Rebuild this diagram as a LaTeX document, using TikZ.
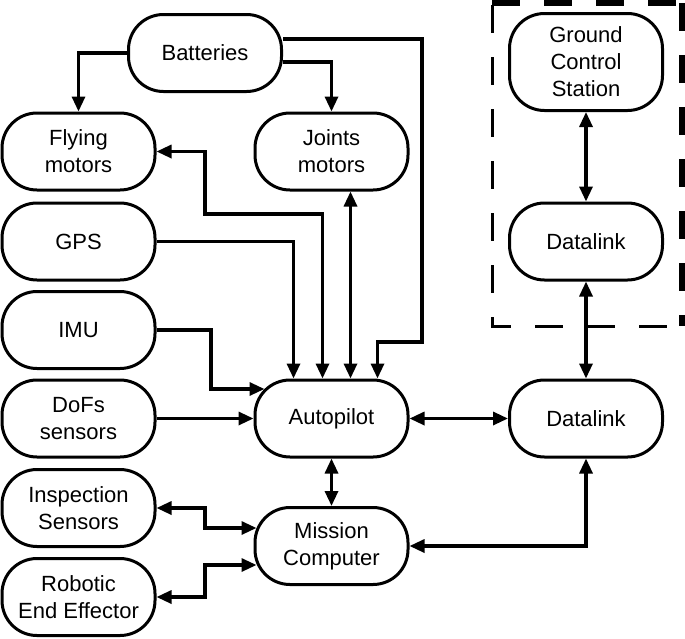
\documentclass[tikz,border=0pt]{standalone}
\usepackage{fontspec}
\setmainfont{Liberation Sans}
\usetikzlibrary{arrows.meta}
\begin{document}
\begin{tikzpicture}[x=1pt,y=-1pt,
  box/.style={draw, line width=3pt, rounded corners=35pt, minimum width=153pt,
    minimum height=77pt, align=center, inner sep=2pt, font=\fontsize{22}{27}\selectfont},
  conn/.style={line width=3.2pt},
  >={Triangle[length=15pt,width=13pt]},
  dashthin/.style={line width=3pt, dash pattern=on 28pt off 24pt},
  dashthick/.style={line width=6pt, dash pattern=on 28pt off 24pt}]
\useasboundingbox (0,0) rectangle (685,638);
\fill[white] (0,0) rectangle (685,638);

% nodes
\node[box] (bat) at (205,53) {Batteries};
\node[box] (fly) at (78.5,151.5) {Flying\\motors};
\node[box] (jm) at (331.5,151.5) {Joints\\motors};
\node[box] (gps) at (78.5,241.5) {GPS};
\node[box] (imu) at (78.5,330) {IMU};
\node[box] (dofs) at (78.5,418.5) {DoFs\\sensors};
\node[box] (ap) at (331.5,418.5) {Autopilot};
\node[box] (ins) at (78.5,508) {Inspection\\Sensors};
\node[box] (ree) at (78.5,597) {Robotic\\End Effector};
\node[box] (mc) at (331.5,546) {Mission\\Computer};
\node[box] (dl1) at (586,418.5) {Datalink};
\node[box] (dl2) at (586,241.5) {Datalink};
\node[box, minimum height=97pt] (gcs) at (586,62) {Ground\\Control\\Station};

% dashed ground segment box
\draw[dashthin] (492,5) -- (492,326) -- (682,326);
\draw[dashthick] (492,3) -- (685,3);
\draw[dashthick] (682,3) -- (682,326);

% connectors
\draw[conn,->] (bat.west) -| (fly.north);
\draw[conn,->] ([yshift=-9pt]bat.east) -| (jm.north);
\draw[conn,->] ([yshift=14pt]bat.east) -| (422,342) -| ([xshift=46pt]ap.north);
\draw[conn,<->] ([xshift=-9pt]ap.north) |- (205,214) |- (fly.east);
\draw[conn,->] (gps.east) -| ([xshift=-38pt]ap.north);
\draw[conn,<->] ([xshift=19pt]jm.south) -- ([xshift=19pt]ap.north);
\draw[conn,->] (imu.east) -| (211,389) -- ([xshift=11pt,yshift=29.5pt]ap.west);
\draw[conn,->] (dofs.east) -- (ap.west);
\draw[conn,<->] (ap.east) -- (dl1.west);
\draw[conn,<->] (ap.south) -- (mc.north);
\draw[conn,<->] (ins.east) -| (205,528) -- ([xshift=3pt,yshift=18pt]mc.west);
\draw[conn,<->] (ree.east) -| (205,565) -- ([xshift=3pt,yshift=-19pt]mc.west);
\draw[conn,<->] (mc.east) -| (dl1.south);
\draw[conn,<->] (dl1.north) -- (dl2.south);
\draw[conn,<->] (dl2.north) -- (gcs.south);
\end{tikzpicture}
\end{document}
